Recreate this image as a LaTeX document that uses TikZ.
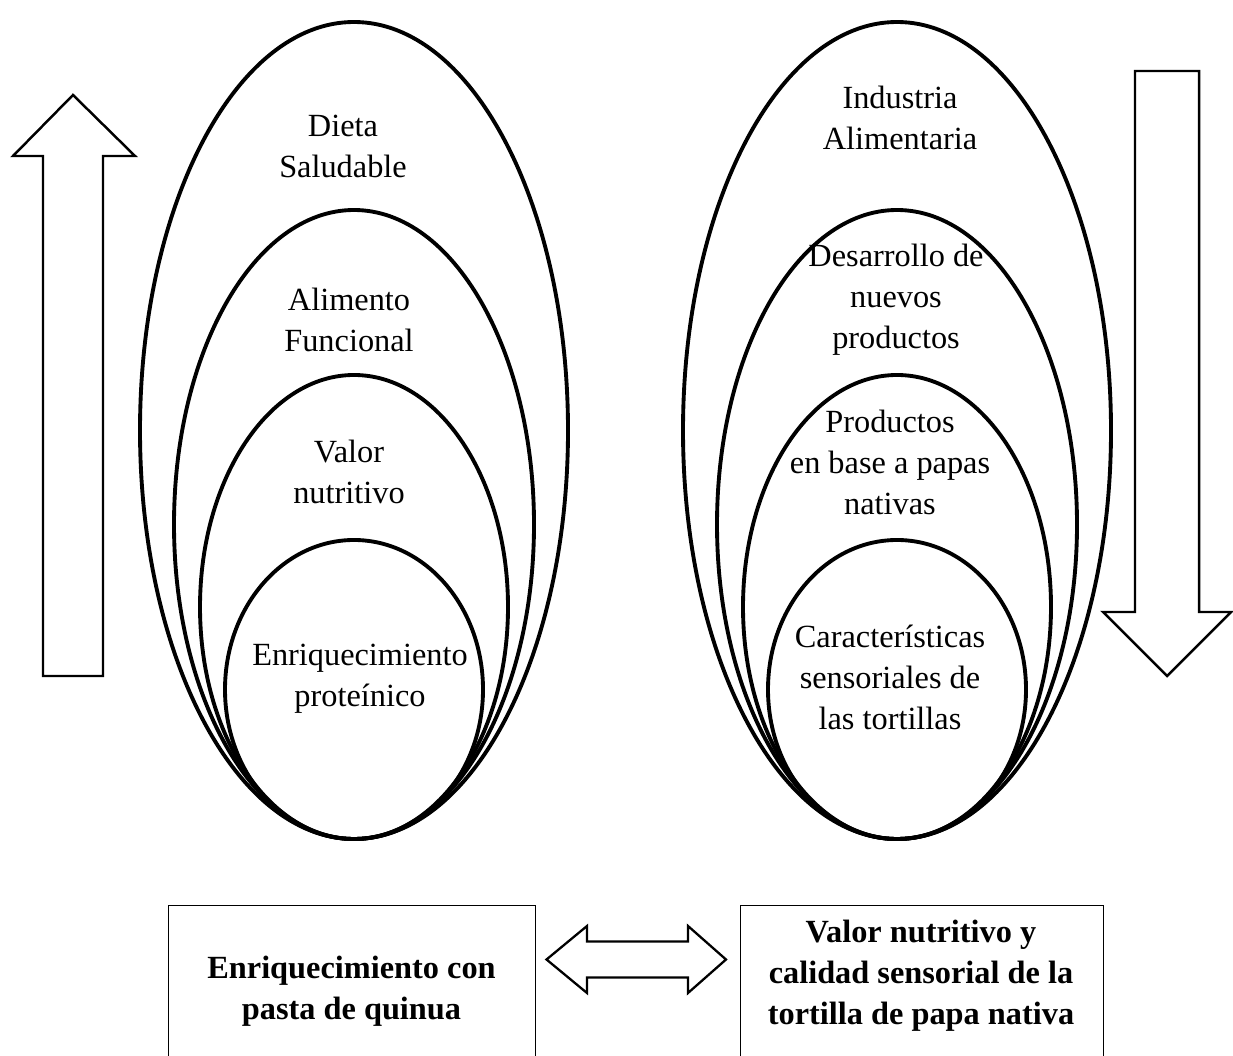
\documentclass[tikz,border=0pt]{standalone}
\usepackage{fontspec}
\setmainfont{Liberation Serif}
\usetikzlibrary{shapes.geometric}
\begin{document}
\begin{tikzpicture}[
    ring/.style={draw, ellipse, line width=2.2pt, inner sep=0pt, outer sep=0pt, anchor=south},
    lbl/.style={align=center, inner sep=0pt, font=\fontsize{18.4}{23.3}\selectfont},
    panel/.style={draw, line width=0.6pt, anchor=north west, inner sep=0pt},
    blockarrow/.style={draw, line width=1.4pt, line join=miter}
  ]
  \useasboundingbox (0,0) rectangle (24.66,21.10);
  % left group
  \node[ring, minimum width=8.56cm, minimum height=16.34cm] (dieta) at (7.08,4.32) {};
  \node[ring, minimum width=7.20cm, minimum height=12.58cm] (funcional) at (7.08,4.32) {};
  \node[ring, minimum width=6.16cm, minimum height=9.28cm] (nutritivo) at (7.08,4.32) {};
  \node[ring, minimum width=5.16cm, minimum height=5.98cm] (proteina) at (7.08,4.32) {};
  \node[lbl] (t1) at (6.86,18.18) {Dieta\\Saludable};
  \node[lbl] (t2) at (6.98,14.70) {Alimento\\Funcional};
  \node[lbl] (t3) at (6.98,11.67) {Valor\\nutritivo};
  \node[lbl] (t4) at (7.20,7.52) {Enriquecimiento\\proteínico};
  % right group
  \node[ring, minimum width=8.56cm, minimum height=16.34cm] (industria) at (17.94,4.32) {};
  \node[ring, minimum width=7.20cm, minimum height=12.58cm] (desarrollo) at (17.94,4.32) {};
  \node[ring, minimum width=6.16cm, minimum height=9.28cm] (productos) at (17.94,4.32) {};
  \node[ring, minimum width=5.16cm, minimum height=5.98cm] (sensorial) at (17.94,4.32) {};
  \node[lbl] (t5) at (18.00,18.75) {Industria\\Alimentaria};
  \node[lbl] (t6) at (17.92,15.10) {Desarrollo de\\nuevos\\productos};
  \node[lbl] (t7) at (17.80,11.85) {Productos\\en base a papas\\nativas};
  \node[lbl] (t8) at (17.80,7.55) {Características\\sensoriales de\\las tortillas};
  % side arrows
  \draw[blockarrow] (1.46,19.20) -- (2.70,17.98) -- (2.06,17.98) -- (2.06,7.58)
    -- (0.86,7.58) -- (0.86,17.98) -- (0.26,17.98) -- cycle;
  \draw[blockarrow] (23.34,7.58) -- (24.62,8.86) -- (23.98,8.86) -- (23.98,19.68)
    -- (22.70,19.68) -- (22.70,8.86) -- (22.06,8.86) -- cycle;
  % bottom boxes
  \node[panel, minimum width=7.34cm, minimum height=4cm] (quinua) at (3.36,3.00) {};
  \node[panel, minimum width=7.26cm, minimum height=4cm] (tortilla) at (14.80,3.00) {};
  \node[lbl, font=\fontsize{18.4}{23.3}\selectfont\bfseries] (q) at (7.03,1.28) {Enriquecimiento con\\pasta de quinua};
  \node[lbl, font=\fontsize{18.4}{23.3}\selectfont\bfseries] (v) at (18.42,1.58) {Valor nutritivo y\\calidad sensorial de la\\tortilla de papa nativa};
  \draw[blockarrow, line width=1.3pt] (10.93,1.91) -- (11.74,2.58) -- (11.74,2.27) -- (13.76,2.27)
    -- (13.76,2.58) -- (14.52,1.91) -- (13.76,1.24) -- (13.76,1.55) -- (11.74,1.55)
    -- (11.74,1.24) -- cycle;
\end{tikzpicture}
\end{document}
